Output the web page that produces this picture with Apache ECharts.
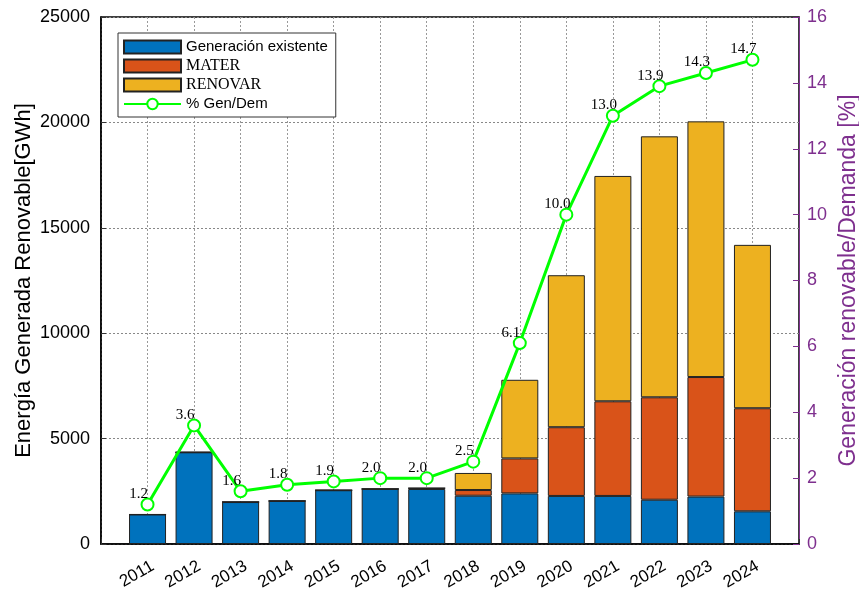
<!DOCTYPE html>
<html>
<head>
<meta charset="utf-8">
<script src="https://cdn.jsdelivr.net/npm/echarts@6/dist/echarts.min.js"></script>
<style>
    html, body { margin: 0; padding: 0; background: #fff; }
    #chart { width: 859px; height: 592px; }
</style>
</head>
<body>
<div id="chart"></div>
<script>
var years = ['2011', '2012', '2013', '2014', '2015', '2016', '2017', '2018', '2019', '2020', '2021', '2022', '2023', '2024'];
var existente = [1400, 4350, 1990, 2040, 2550, 2610, 2610, 2290, 2400, 2280, 2280, 2100, 2250, 1550];
var mater = [0, 0, 0, 0, 0, 0, 40, 270, 1660, 3260, 4490, 4860, 5670, 4890];
var renovar = [0, 0, 0, 0, 0, 0, 0, 810, 3730, 7210, 10690, 12380, 12130, 7750];
var genDem = [1.2, 3.6, 1.6, 1.8, 1.9, 2.0, 2.0, 2.5, 6.1, 10.0, 13.0, 13.9, 14.3, 14.7];

var leftTicks = [0, 25000, 5000];
var rightTicks = [0, 16, 2];

var purple = '#7E2F8E';
var sans = 'Liberation Sans';
var serif = 'Liberation Serif';

// padding slots so the first/last year sit one step inside the frame
function pad(arr) {
    return [null].concat(arr, [null]);
}

function initChart() {
    var cats = [''].concat(years, ['']);
    var barBorder = { borderColor: '#222', borderWidth: 1 };

    var option = {
        animation: false,
        grid: {
            left: 101,
            right: 60,
            top: 17,
            bottom: 48,
            outerBoundsMode: 'none',
            containLabel: false,
            show: true,
            borderColor: '#000',
            borderWidth: 1.5,
            backgroundColor: '#fff'
        },
        legend: {
            orient: 'vertical',
            left: 118,
            top: 33,
            padding: [6, 8, 5, 5],
            itemGap: 3,
            itemWidth: 57,
            itemHeight: 13,
            backgroundColor: '#fff',
            borderColor: '#333',
            borderWidth: 1,
            borderRadius: 0,
            data: [
                { name: 'Generación existente', icon: 'rect' },
                { name: 'MATER', icon: 'rect' },
                { name: 'RENOVAR', icon: 'rect' },
                '% Gen/Dem'
            ],
            formatter: function (name) {
                if (name == 'MATER' || name == 'RENOVAR') {
                    return '{s|' + name + '}';
                }
                return name;
            },
            textStyle: {
                fontFamily: sans,
                fontSize: 15,
                lineHeight: 16,
                color: '#000',
                padding: [0, 0, 0, 0],
                rich: {
                    s: { fontFamily: serif, fontSize: 16, lineHeight: 16, color: '#000' }
                }
            }
        },
        xAxis: {
            type: 'category',
            data: cats,
            boundaryGap: false,
            axisLine: { lineStyle: { color: '#000', width: 1.5 } },
            axisTick: { inside: true, interval: 0, length: 5, lineStyle: { color: '#333' } },
            axisLabel: {
                interval: 0,
                rotate: 30,
                fontFamily: sans,
                fontSize: 17,
                color: '#000',
                margin: 24,
                padding: [0, -6, 0, 0]
            },
            splitLine: {
                show: true,
                interval: 0,
                lineStyle: { color: '#999', type: [2, 2], width: 1 }
            }
        },
        yAxis: [
            {
                type: 'value',
                min: leftTicks[0],
                max: leftTicks[1],
                interval: leftTicks[2],
                name: 'Energía Generada Renovable[GWh]',
                nameLocation: 'middle',
                nameRotate: 90,
                nameGap: 66,
                nameMoveOverlap: false,
                nameTextStyle: { fontFamily: sans, fontSize: 22, color: '#000' },
                axisLine: { show: true, lineStyle: { color: '#000', width: 1.5 } },
                axisTick: { show: true, inside: true, length: 5, lineStyle: { color: '#333' } },
                axisLabel: {
                    fontFamily: sans,
                    fontSize: 18,
                    color: '#000',
                    margin: 11,
                    formatter: function (v) { return String(v); }
                },
                splitLine: { show: true, lineStyle: { color: '#888', type: [2, 2], width: 1 } }
            },
            {
                type: 'value',
                position: 'right',
                min: rightTicks[0],
                max: rightTicks[1],
                interval: rightTicks[2],
                name: 'Generación renovable/Demanda [%]',
                nameLocation: 'middle',
                nameRotate: 90,
                nameGap: 38,
                nameMoveOverlap: false,
                nameTextStyle: { fontFamily: sans, fontSize: 23, color: purple },
                axisLine: { show: true, lineStyle: { color: purple, width: 1 } },
                axisTick: { show: true, inside: true, length: 6, lineStyle: { color: purple } },
                axisLabel: { fontFamily: sans, fontSize: 18, color: purple, margin: 8 },
                splitLine: { show: false }
            }
        ],
        series: [
            {
                name: 'Generación existente',
                type: 'bar',
                stack: 'gen',
                barWidth: 37,
                data: pad(existente),
                itemStyle: Object.assign({ color: '#0072BD' }, barBorder)
            },
            {
                name: 'MATER',
                type: 'bar',
                stack: 'gen',
                barWidth: 37,
                data: pad(mater),
                itemStyle: Object.assign({ color: '#D95319' }, barBorder)
            },
            {
                name: 'RENOVAR',
                type: 'bar',
                stack: 'gen',
                barWidth: 37,
                data: pad(renovar),
                itemStyle: Object.assign({ color: '#EDB120' }, barBorder)
            },
            {
                name: '% Gen/Dem',
                type: 'line',
                yAxisIndex: 1,
                data: pad(genDem),
                z: 5,
                symbol: 'emptyCircle',
                symbolSize: 12,
                lineStyle: { color: '#00FF00', width: 3 },
                itemStyle: { color: '#00FF00', borderWidth: 3 },
                label: {
                    show: true,
                    position: 'top',
                    offset: [-9, 9],
                    fontFamily: serif,
                    fontSize: 15,
                    color: '#000',
                    formatter: function (p) {
                        return p.value.toFixed(1);
                    }
                }
            }
        ]
    };

    var myChart = echarts.init(document.getElementById('chart'));
    myChart.setOption(option);
}

initChart();
</script>
</body>
</html>
